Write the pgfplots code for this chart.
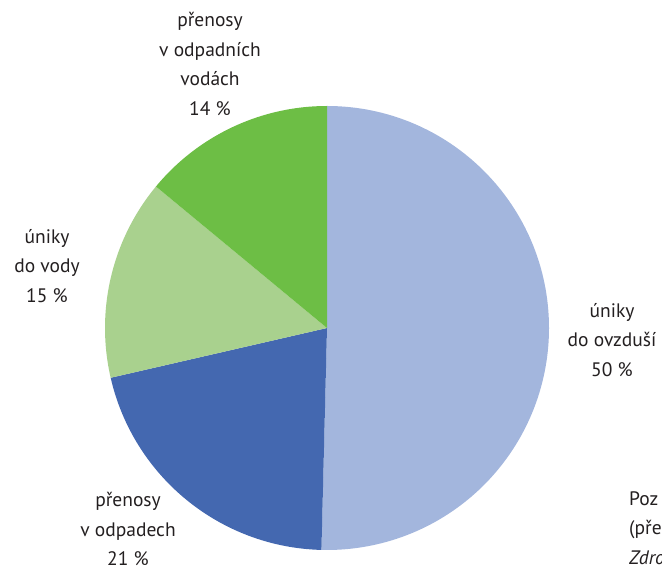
\documentclass[border=0pt]{standalone}
\usepackage{fontspec}
\setmainfont{PT Sans}
\usepackage{pgfplots}
\usepackage{pgfplotstable}
\pgfplotsset{compat=1.18}
\definecolor{cAir}{HTML}{A3B6DD}
\definecolor{cWaste}{HTML}{4468B0}
\definecolor{cWater}{HTML}{A9D18E}
\definecolor{cWW}{HTML}{6DBE45}
\definecolor{txt}{HTML}{231F20}
\pgfplotstableread{
key value color
ovzdusi 50.4 cAir
odpadech 21.0 cWaste
vody 14.6 cWater
vodach 14.0 cWW
}\piedata
\begin{document}
\begin{tikzpicture}
\begin{axis}[
  scale only axis, width=662bp, height=572bp,
  xmin=0, xmax=662, ymin=0, ymax=572,
  hide axis, clip=false,
]
\def\cumangle{90}
\pgfplotsforeachungrouped \i in {0,1,2,3}{%
  \pgfplotstablegetelem{\i}{value}\of\piedata
  \pgfmathsetmacro\sweep{3.6*\pgfplotsretval}
  \pgfmathsetmacro\endangle{\cumangle-\sweep}
  \pgfplotstablegetelem{\i}{color}\of\piedata
  \edef\temp{\noexpand\fill[\pgfplotsretval] (axis cs:327,244) -- ++(\cumangle:222bp) arc[start angle=\cumangle, end angle=\endangle, radius=222bp] -- cycle;}
  \temp
  \global\let\cumangle\endangle
}
\tikzset{lab/.style={align=center, font=\fontsize{19.5bp}{29.5bp}\selectfont, text=txt, inner sep=0pt}}
\node[lab] at (axis cs:210,508) {přenosy\\v odpadních\\vodách\\14 \%};
\node[lab] at (axis cs:47,306) {úniky\\do vody\\15 \%};
\node[lab] at (axis cs:612,232) {úniky\\do ovzduší\\50 \%};
\node[lab] at (axis cs:128,43) {přenosy\\v odpadech\\21 \%};
\node[lab, align=left, anchor=west] at (axis cs:629,44) {Poz\\(pře\\\textit{Zdro}};
\end{axis}
\pgfresetboundingbox
\useasboundingbox (0,0) rectangle (662bp,572bp);
\end{tikzpicture}
\end{document}
